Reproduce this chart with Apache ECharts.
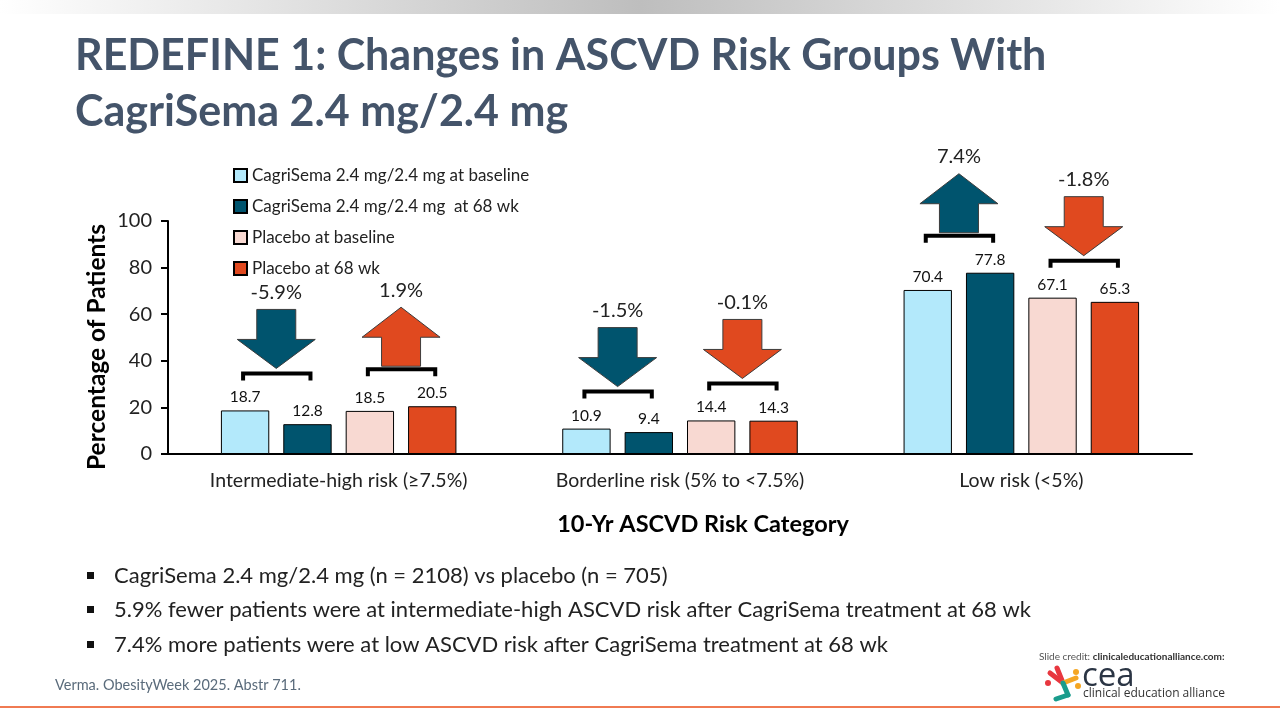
<!DOCTYPE html>
<html>
<head>
<meta charset="utf-8">
<script src="https://cdn.jsdelivr.net/npm/echarts@6/dist/echarts.min.js"></script>
<style>
html,body{margin:0;padding:0;background:#fff;}
#chart{width:1280px;height:720px;}
</style>
</head>
<body>
<div id="chart"></div>
<script>
// ---- data ----
var categories = ['Intermediate-high risk (\u22657.5%)', 'Borderline risk (5% to <7.5%)', 'Low risk (<5%)'];
var seriesNames = ['CagriSema 2.4 mg/2.4 mg at baseline', 'CagriSema 2.4 mg/2.4 mg  at 68 wk', 'Placebo at baseline', 'Placebo at 68 wk'];
var cagriBaseline = [18.7, 10.9, 70.4];
var cagri68 = [12.8, 9.4, 77.8];
var placeboBaseline = [18.5, 14.4, 67.1];
var placebo68 = [20.5, 14.3, 65.3];
var cagriChange = [-5.9, -1.5, 7.4];
var placeboChange = [1.9, -0.1, -1.8];
var yTicks = [0, 20, 40, 60, 80, 100];
var bullets = [
  'CagriSema 2.4 mg/2.4 mg (n = 2108) vs placebo (n = 705)',
  '5.9% fewer patients were at intermediate-high ASCVD risk after CagriSema treatment at 68 wk',
  '7.4% more patients were at low ASCVD risk after CagriSema treatment at 68 wk'
];

// ---- styles ----
var colors = ['#B3E9FB', '#00546E', '#F8D9D2', '#E0491F'];
var FONT = 'Lato, "Open Sans", sans-serif';
var BAR_CAT_GAP = 0.31, BAR_GAP = 0.29, NBARS = 4;

function barSeries(name, data, color) {
  return {
    type: 'bar', name: name, data: data,
    barCategoryGap: (BAR_CAT_GAP * 100) + '%', barGap: (BAR_GAP * 100) + '%',
    itemStyle: { color: color, borderColor: '#000', borderWidth: 1 },
    label: { show: true, position: 'top', distance: 5, fontSize: 15.5, color: '#111', fontFamily: FONT,
      formatter: function (p) { return p.value.toFixed(1); } },
    z: 2
  };
}

// annotation data: [categoryIndex, arm(0 cagri / 1 placebo), change, max of pair]
var annotData = [];
for (var i = 0; i < categories.length; i++) {
  annotData.push([i, 0, cagriChange[i], Math.max(cagriBaseline[i], cagri68[i])]);
  annotData.push([i, 1, placeboChange[i], Math.max(placeboBaseline[i], placebo68[i])]);
}

function renderAnnot(params, api) {
  var cat = api.value(0), arm = api.value(1), chg = api.value(2), mx = api.value(3);
  var center = api.coord([cat, mx]);
  var band = api.size([1, 0])[0];
  var barW = band * (1 - BAR_CAT_GAP) / (NBARS + (NBARS - 1) * BAR_GAP);
  var gap = barW * BAR_GAP;
  var total = NBARS * barW + (NBARS - 1) * gap;
  var start = center[0] - total / 2;
  var c1 = start + (arm * 2) * (barW + gap) + barW / 2;
  var c2 = start + (arm * 2 + 1) * (barW + gap) + barW / 2;
  var cx = (c1 + c2) / 2;
  var by = center[1] - 37;
  var color = arm === 0 ? colors[1] : colors[3];
  var hw = 39, sw = 19.5, total_h = 59, head_h = 29;
  var pts, top;
  if (chg < 0) {
    var tip = by - 5;
    top = tip - total_h;
    pts = [[cx - sw, top], [cx + sw, top], [cx + sw, tip - head_h], [cx + hw, tip - head_h], [cx, tip],
           [cx - hw, tip - head_h], [cx - sw, tip - head_h]];
  } else {
    var bot = by - 3;
    top = bot - total_h;
    pts = [[cx, top], [cx + hw, top + 30], [cx + sw, top + 30], [cx + sw, bot],
           [cx - sw, bot], [cx - sw, top + 30], [cx - hw, top + 30]];
  }
  return {
    type: 'group',
    children: [
      { type: 'polyline', shape: { points: [[c1 - 2, by + 7], [c1 - 2, by], [c2 + 3, by], [c2 + 3, by + 7]] },
        style: { stroke: '#000', lineWidth: 4, fill: null, lineJoin: 'miter' } },
      { type: 'polygon', shape: { points: pts },
        style: { fill: color, stroke: '#3c3c3c', lineWidth: 1 } },
      { type: 'text', x: cx, y: top - 17,
        style: { text: chg.toFixed(1) + '%', fontSize: 20, fontFamily: FONT, fill: '#222', align: 'center', verticalAlign: 'middle' } }
    ]
  };
}

var chart = echarts.init(document.getElementById('chart'));

var graphics = [
  { type: 'rect', shape: { x: 0, y: 0, width: 1280, height: 14 }, silent: true,
    style: { fill: new echarts.graphic.LinearGradient(0, 0, 1, 0, [
      { offset: 0, color: '#ffffff' }, { offset: 0.5, color: '#bebebe' }, { offset: 1, color: '#ffffff' }]) } },
  { type: 'text', left: 75, top: 28,
    style: { text: 'REDEFINE 1: Changes in ASCVD Risk Groups With\nCagriSema 2.4 mg/2.4 mg', fontSize: 43, fontWeight: 'bold',
      fontFamily: FONT, fill: '#44546A', lineHeight: 56 } },
  { type: 'text', x: 97, y: 347, rotation: Math.PI / 2,
    style: { text: 'Percentage of Patients', fontSize: 24.5, fontWeight: 'bold', fontFamily: FONT, fill: '#000',
      align: 'center', verticalAlign: 'middle' } },
  { type: 'text', x: 703, y: 524,
    style: { text: '10-Yr ASCVD Risk Category', fontSize: 23.5, fontWeight: 'bold', fontFamily: FONT, fill: '#000',
      align: 'center', verticalAlign: 'middle' } },
  { type: 'text', x: 55, y: 685,
    style: { text: 'Verma. ObesityWeek 2025. Abstr 711.', fontSize: 14.5, fontFamily: FONT, fill: '#5A6B7B', verticalAlign: 'middle' } },
  { type: 'rect', shape: { x: 0, y: 706, width: 1280, height: 2 }, style: { fill: '#F07A52' } },
  { type: 'text', x: 1039, y: 657,
    style: { text: '{a|Slide credit: }{b|clinicaleducationalliance.com:}', verticalAlign: 'middle',
      rich: { a: { fontSize: 10, fontFamily: FONT, fill: '#555' }, b: { fontSize: 10, fontFamily: FONT, fill: '#333', fontWeight: 'bold' } } } },
  // logo (approximation)
  { type: 'line', shape: { x1: 1050, y1: 673, x2: 1063, y2: 683 }, style: { stroke: '#E8373F', lineWidth: 5, lineCap: 'round' } },
  { type: 'line', shape: { x1: 1057, y1: 668, x2: 1063, y2: 683 }, style: { stroke: '#E8373F', lineWidth: 5, lineCap: 'round' } },
  { type: 'line', shape: { x1: 1063, y1: 683, x2: 1076, y2: 678 }, style: { stroke: '#F5A623', lineWidth: 5, lineCap: 'round' } },
  { type: 'line', shape: { x1: 1063, y1: 683, x2: 1068, y2: 695 }, style: { stroke: '#1A9C8C', lineWidth: 5, lineCap: 'round' } },
  { type: 'line', shape: { x1: 1068, y1: 695, x2: 1056, y2: 699 }, style: { stroke: '#1A9C8C', lineWidth: 5, lineCap: 'round' } },
  { type: 'circle', shape: { cx: 1048, cy: 683, r: 3 }, style: { fill: '#E8373F' } },
  { type: 'circle', shape: { cx: 1076, cy: 672, r: 3 }, style: { fill: '#F5A623' } },
  { type: 'circle', shape: { cx: 1078, cy: 686, r: 3 }, style: { fill: '#F5A623' } },
  { type: 'text', x: 1082, y: 677,
    style: { text: 'cea', fontSize: 33, fontFamily: '"Open Sans", sans-serif', fill: '#2B3544', verticalAlign: 'middle' } },
  { type: 'text', x: 1083, y: 694,
    style: { text: 'clinical education alliance', fontSize: 12, fontFamily: '"Open Sans", sans-serif', fill: '#333', verticalAlign: 'middle' } }
];
var bulletY = [576, 610, 645];
for (var b = 0; b < bullets.length; b++) {
  graphics.push({ type: 'rect', shape: { x: 87, y: bulletY[b] - 4, width: 7, height: 7 }, style: { fill: '#111' } });
  graphics.push({ type: 'text', x: 114, y: bulletY[b],
    style: { text: bullets[b], fontSize: 22, fontFamily: FONT, fill: '#222', verticalAlign: 'middle' } });
}

chart.setOption({
  animation: false,
  backgroundColor: '#fff',
  textStyle: { fontFamily: FONT },
  grid: { left: 168, right: 88, top: 221, bottom: 266, containLabel: false },
  legend: {
    orient: 'vertical', left: 228, top: 162, itemWidth: 13, itemHeight: 13, itemGap: 14, icon: 'rect',
    data: seriesNames,
    textStyle: { fontSize: 17, color: '#222', fontFamily: FONT, lineHeight: 17 }
  },
  xAxis: {
    type: 'category', data: categories,
    axisLine: { lineStyle: { color: '#000', width: 2 } },
    axisTick: { show: false },
    axisLabel: { fontSize: 19.5, color: '#222', margin: 17, fontFamily: FONT }
  },
  yAxis: {
    type: 'value', min: 0, max: 100, interval: 20,
    axisLine: { show: true, lineStyle: { color: '#000', width: 2 } },
    axisTick: { show: true, inside: false, length: 7, lineStyle: { color: '#000', width: 2 } },
    splitLine: { show: false },
    axisLabel: { fontSize: 20, color: '#222', margin: 16, fontFamily: FONT,
      formatter: function (v) { return yTicks.indexOf(v) >= 0 ? String(v) : ''; } }
  },
  series: [
    barSeries(seriesNames[0], cagriBaseline, colors[0]),
    barSeries(seriesNames[1], cagri68, colors[1]),
    barSeries(seriesNames[2], placeboBaseline, colors[2]),
    barSeries(seriesNames[3], placebo68, colors[3]),
    { type: 'custom', name: 'annotations', data: annotData, renderItem: renderAnnot,
      encode: { x: 0, y: 3 }, z: 5, silent: true, clip: false }
  ],
  graphic: graphics
});
</script>
</body>
</html>
